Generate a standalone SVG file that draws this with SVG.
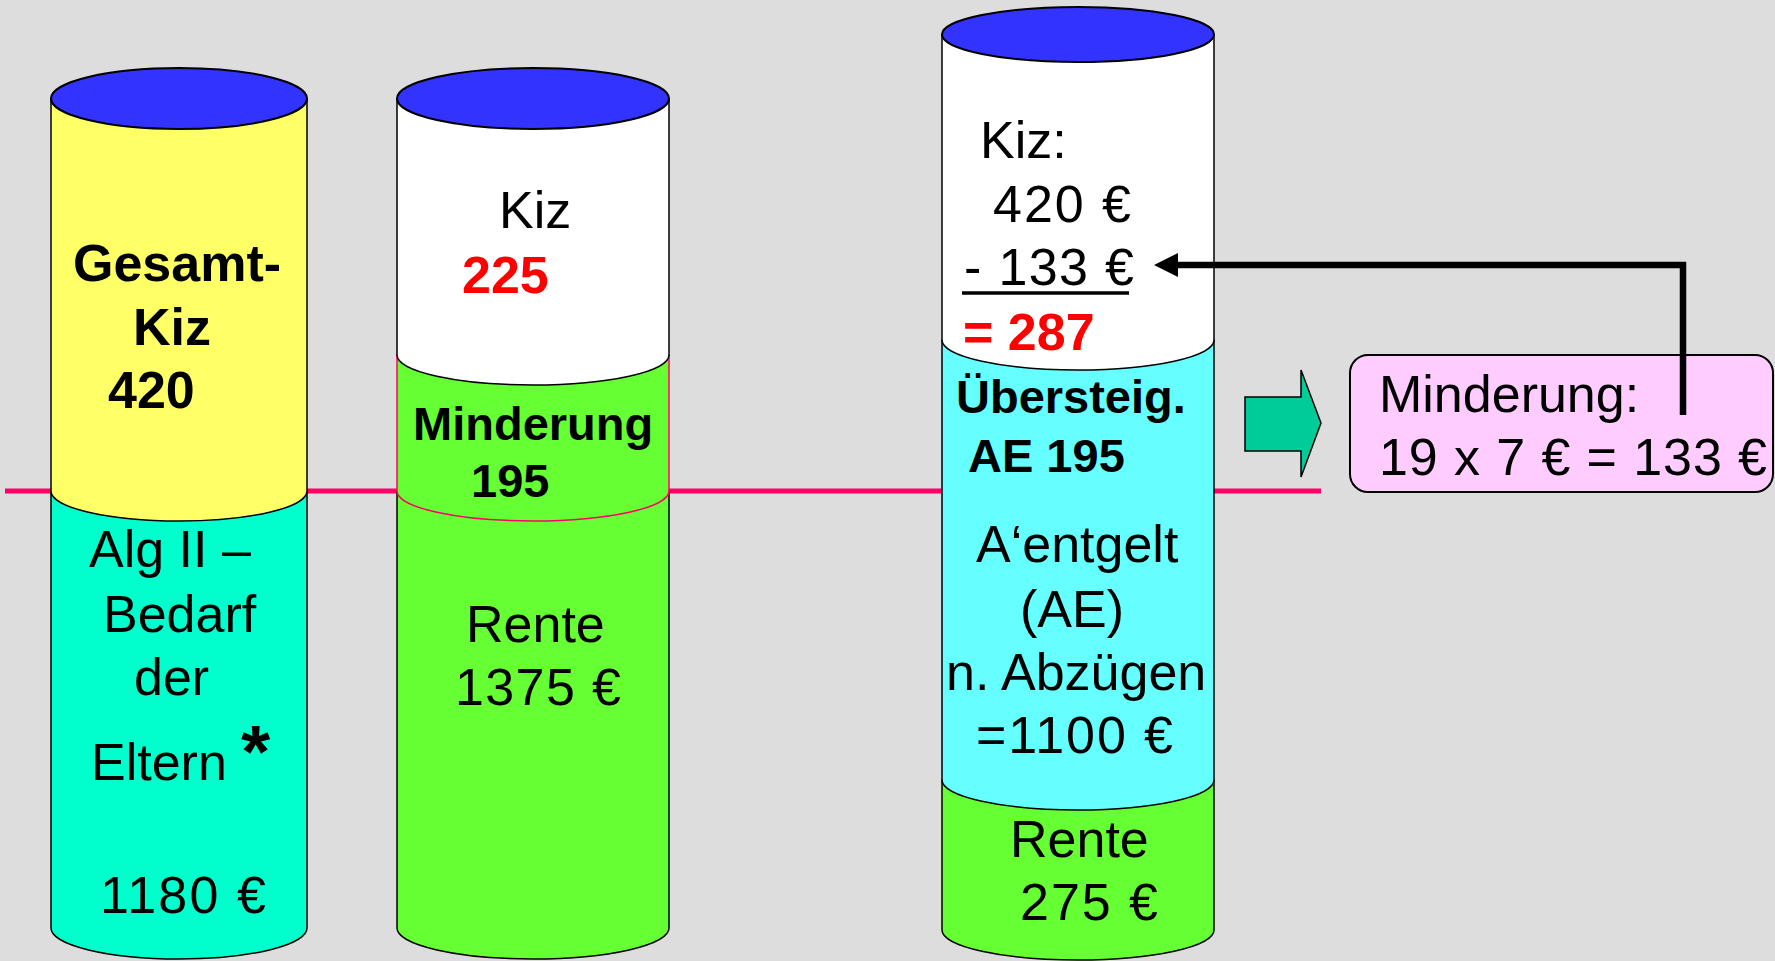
<svg xmlns="http://www.w3.org/2000/svg" width="1775" height="961" viewBox="0 0 1775 961">
<defs>
<style>
.bg{fill:#DDDDDD}
.seg{stroke:#000;stroke-width:1.5}
.top{fill:#3333FF;stroke:#000;stroke-width:2}
.t{font-family:"Liberation Sans",Arial,sans-serif;font-size:52px;fill:#000}
.b{font-family:"Liberation Sans",Arial,sans-serif;font-weight:bold;font-size:47px;fill:#000}
.b52{font-size:52px}
.ast{font-size:75px}
.red{fill:#FF0000}
.conn{fill:none;stroke:#000;stroke-width:6.5}
</style>
<marker id="ah" markerUnits="userSpaceOnUse" markerWidth="24" markerHeight="24" viewBox="0 0 24 24" refX="0" refY="12" orient="auto">
<path d="M0,0 L24,12 L0,24 Z" fill="#000"/>
</marker>
</defs>
<rect class="bg" x="0" y="0" width="1775" height="961"/>
<g id="ref-line">
<line x1="5" y1="491" x2="1321" y2="491" stroke="#FF0066" stroke-width="5"/>
</g>
<g id="cyl1">
<path class="seg" fill="#00FFCC" d="M51,491 L51,928 A128,31 0 0 0 307,928 L307,491 Z"/>
<path class="seg" fill="#FFFF66" d="M51,98.5 L51,491 A128,30 0 0 0 307,491 L307,98.5 Z"/>
<ellipse class="top" cx="179" cy="98.5" rx="128" ry="30.5"/>
<text class="b b52" x="73" y="281">Gesamt-</text>
<text class="b b52" x="133" y="345">Kiz</text>
<text class="b b52" x="108" y="408">420</text>
<text class="t" x="89" y="567">Alg II –</text>
<text class="t" x="103" y="632">Bedarf</text>
<text class="t" x="134" y="695">der</text>
<text class="t" x="91" y="780">Eltern</text>
<text class="b ast" x="241" y="777">*</text>
<text class="t" x="100" y="913" textLength="166" lengthAdjust="spacing">1180 €</text>
</g>
<g id="cyl2">
<path class="seg" fill="#66FF33" d="M397,491 L397,928 A136,31 0 0 0 669,928 L669,491 Z"/>
<path fill="#66FF33" stroke="#FF0066" stroke-width="1.5" d="M397,355 L397,491 A136,30 0 0 0 669,491 L669,355 Z"/>
<path class="seg" fill="#FFFFFF" d="M397,98.5 L397,355 A136,30 0 0 0 669,355 L669,98.5 Z"/>
<ellipse class="top" cx="533" cy="98.5" rx="136" ry="30.5"/>
<text class="t" x="499" y="228">Kiz</text>
<text class="b b52 red" x="462" y="293">225</text>
<text class="b" x="413" y="440">Minderung</text>
<text class="b" x="471" y="497">195</text>
<text class="t" x="466" y="642">Rente</text>
<text class="t" x="455" y="705" textLength="166" lengthAdjust="spacing">1375 €</text>
</g>
<g id="cyl3">
<path class="seg" fill="#66FF33" d="M942,780 L942,930 A136,30 0 0 0 1214,930 L1214,780 Z"/>
<path class="seg" fill="#66FFFF" d="M942,340 L942,780 A136,30 0 0 0 1214,780 L1214,340 Z"/>
<path class="seg" fill="#FFFFFF" d="M942,34.5 L942,340 A136,30 0 0 0 1214,340 L1214,34.5 Z"/>
<ellipse class="top" cx="1078" cy="34.5" rx="136" ry="27.5"/>
<text class="t" x="980" y="158">Kiz:</text>
<text class="t" x="993" y="222" textLength="138" lengthAdjust="spacing">420 €</text>
<text class="t" x="964" y="285" textLength="170" lengthAdjust="spacing">- 133 €</text>
<line x1="962" y1="293" x2="1129" y2="293" stroke="#000" stroke-width="3.5"/>
<text class="b b52 red" x="963" y="350">= 287</text>
<text class="b" x="956" y="413">Übersteig.</text>
<text class="b" x="968" y="472">AE 195</text>
<text class="t" x="976" y="562">A‘entgelt</text>
<text class="t" x="1020" y="627">(AE)</text>
<text class="t" x="946" y="690">n. Abzügen</text>
<text class="t" x="976" y="753" textLength="197" lengthAdjust="spacing">=1100 €</text>
<text class="t" x="1010" y="857">Rente</text>
<text class="t" x="1020" y="920" textLength="138" lengthAdjust="spacing">275 €</text>
</g>
<g id="arrow-green">
<polygon points="1245,397 1301,397 1301,370 1321,423 1301,477 1301,451 1245,451" fill="#00CC99" stroke="#000" stroke-width="1.5"/>
</g>
<g id="box-minderung">
<rect x="1350" y="355" width="423" height="137" rx="18" fill="#FFCCFF" stroke="#000" stroke-width="2"/>
<text class="t" x="1379" y="412">Minderung:</text>
<text class="t" x="1379" y="475" textLength="388" lengthAdjust="spacing">19 x 7 € = 133 €</text>
</g>
<g id="connectors">
<path class="conn" d="M1683,415 V265 H1178" marker-end="url(#ah)"/>
</g>
</svg>
